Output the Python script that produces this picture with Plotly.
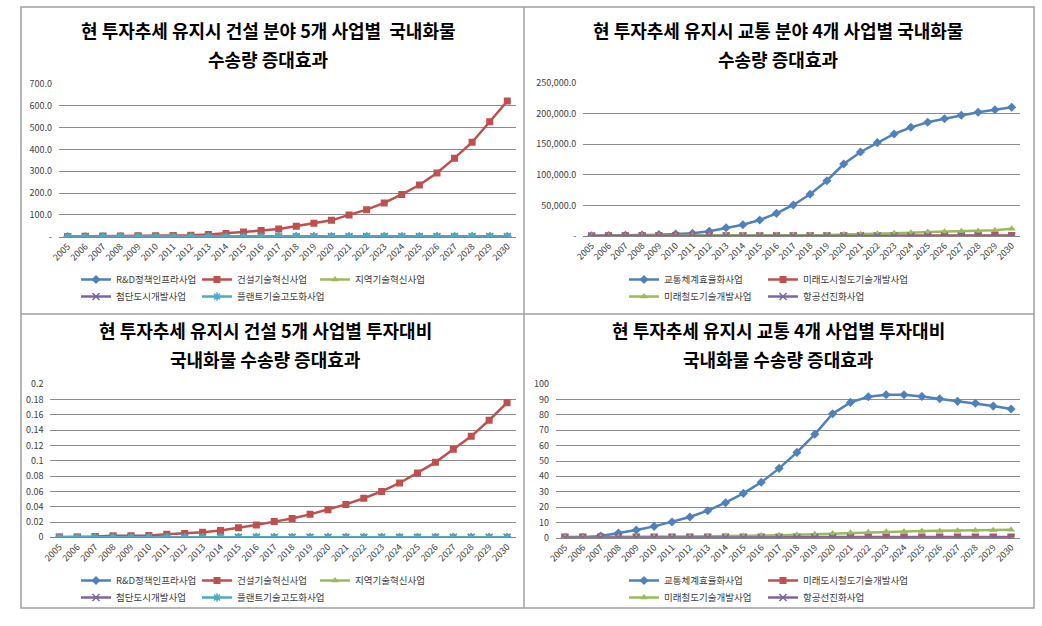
import plotly.graph_objects as go

W, H = 1042, 626

years = list(range(2005, 2031))
year_labels = [str(y) for y in years]

# ---- top-left: 건설 분야 5개 사업별 국내화물 수송량 증대효과 ----
tl_names = ["R&D정책인프라사업", "건설기술혁신사업", "지역기술혁신사업", "첨단도시개발사업", "플랜트기술고도화사업"]
tl_rnd = [0.1, 0.1, 0.1, 0.2, 0.2, 0.2, 0.2, 0.3, 0.3, 0.3, 0.4, 0.4, 0.4, 0.5, 0.5, 0.5, 0.6, 0.6, 0.6, 0.7, 0.7, 0.7, 0.8, 0.8, 0.9, 0.9]
tl_con = [1, 1.5, 3, 3.5, 4, 4.5, 5, 7, 10, 15, 21, 28, 35, 48, 62, 75, 100, 124, 155, 194, 237, 292, 360, 433, 527, 622]
tl_reg = [0.1, 0.1, 0.1, 0.1, 0.2, 0.2, 0.2, 0.2, 0.3, 0.3, 0.3, 0.3, 0.4, 0.4, 0.4, 0.5, 0.5, 0.5, 0.6, 0.6, 0.6, 0.7, 0.7, 0.7, 0.8, 0.8]
tl_city = [0.0, 0.0, 0.0, 0.0, 0.1, 0.1, 0.1, 0.1, 0.1, 0.1, 0.2, 0.2, 0.2, 0.2, 0.2, 0.3, 0.3, 0.3, 0.3, 0.3, 0.4, 0.4, 0.4, 0.4, 0.5, 0.5]
tl_plant = [0.1, 0.1, 0.1, 0.1, 0.1, 0.2, 0.2, 0.2, 0.2, 0.2, 0.3, 0.3, 0.3, 0.3, 0.4, 0.4, 0.4, 0.4, 0.5, 0.5, 0.5, 0.6, 0.6, 0.6, 0.7, 0.7]
tl_yticks = [0, 100, 200, 300, 400, 500, 600, 700]
tl_yticktext = ["-", "100.0", "200.0", "300.0", "400.0", "500.0", "600.0", "700.0"]

# ---- top-right: 교통 분야 4개 사업별 국내화물 수송량 증대효과 ----
tr_names = ["교통체계효율화사업", "미래도시철도기술개발사업", "미래철도기술개발사업", "항공선진화사업"]
tr_eff = [500, 800, 1000, 1500, 2200, 3300, 4400, 7700, 13600, 18500, 26100, 37000, 50700, 68100, 90300,
          117600, 137300, 152500, 166700, 177600, 185800, 191700, 197300, 202100, 206400, 210300]
tr_urban = [200, 220, 240, 260, 280, 300, 300, 320, 340, 360, 380, 400, 420, 440, 460, 480, 500, 520, 540, 560, 580, 600, 620, 640, 660, 680]
tr_rail = [100, 150, 200, 250, 300, 400, 500, 600, 700, 800, 900, 1000, 1200, 1400, 1600,
           2500, 3000, 3800, 4500, 5500, 6500, 7000, 7800, 8300, 9500, 12000]
tr_air = [20, 20, 30, 30, 30, 40, 40, 40, 50, 50, 50, 60, 60, 60, 70, 70, 70, 80, 80, 80, 90, 90, 90, 100, 100, 100]
tr_yticks = [0, 50000, 100000, 150000, 200000, 250000]
tr_yticktext = ["-", "50,000.0", "100,000.0", "150,000.0", "200,000.0", "250,000.0"]

# ---- bottom-left: 건설 5개 사업별 투자대비 ----
bl_rnd = [0.0001] * 26
bl_con = [0.0003, 0.0005, 0.001, 0.002, 0.002, 0.0025, 0.004, 0.005, 0.0065, 0.009, 0.0125, 0.016, 0.0205,
          0.0245, 0.03, 0.036, 0.043, 0.051, 0.06, 0.071, 0.084, 0.098, 0.115, 0.132, 0.153, 0.176]
bl_reg = [0.0001] * 26
bl_city = [0.0] * 26
bl_plant = [0.0001] * 26
bl_yticks = [0, 0.02, 0.04, 0.06, 0.08, 0.1, 0.12, 0.14, 0.16, 0.18, 0.2]
bl_yticktext = ["0", "0.02", "0.04", "0.06", "0.08", "0.1", "0.12", "0.14", "0.16", "0.18", "0.2"]

# ---- bottom-right: 교통 4개 사업별 투자대비 ----
br_eff = [0.1, 0.2, 1.1, 3, 5, 7.4, 10.2, 13.5, 17.6, 22.8, 28.9, 36.1, 45.2, 55.6, 67.4, 80.8,
          88.2, 91.9, 93.2, 93.2, 92.1, 90.6, 88.9, 87.6, 85.8, 83.9]
br_urban = [0.5] * 26
br_rail = [0.3, 0.3, 0.4, 0.5, 0.5, 0.6, 0.7, 0.8, 0.9, 1.0, 1.1, 1.4, 1.6, 1.9, 2.3, 2.8,
           3.2, 3.5, 3.8, 4.1, 4.3, 4.4, 4.6, 4.7, 4.8, 5.2]
br_air = [0.05] * 26
br_yticks = [0, 10, 20, 30, 40, 50, 60, 70, 80, 90, 100]
br_yticktext = [str(v) for v in br_yticks]

titles = [
    ("현 투자추세 유지시 건설 분야 5개 사업별  국내화물", "수송량 증대효과"),
    ("현 투자추세 유지시 교통 분야 4개 사업별 국내화물", "수송량 증대효과"),
    ("현 투자추세 유지시 건설 5개 사업별 투자대비", "국내화물 수송량 증대효과"),
    ("현 투자추세 유지시 교통 4개 사업별 투자대비", "국내화물 수송량 증대효과"),
]

BLUE, RED, GREEN, PURPLE, CYAN = "#4F81BD", "#C0504D", "#9BBB59", "#8064A2", "#4BACC6"
FONT = "Noto Sans CJK KR"

def px_x(p):
    return p / W

def px_y(p):
    return 1 - p / H

fig = go.Figure()

con_styles = [
    (BLUE, "diamond", 7),
    (RED, "square", 7),
    (GREEN, "triangle-up", 7),
    (PURPLE, "x-thin-open", 7),
    (CYAN, "asterisk-open", 7),
]
tr_styles = [
    (BLUE, "diamond", 7),
    (RED, "square", 7),
    (GREEN, "triangle-up", 7),
    (PURPLE, "x-thin-open", 7),
]

# legend slots (text start x, row centre y) in pixels
con_slots_top = [(117, 279), (238, 279), (356, 279), (117, 296), (238, 296)]
tr_slots_top = [(665, 279), (804, 279), (665, 296), (804, 296)]
con_slots_bot = [(117, 580), (238, 580), (356, 580), (117, 597), (238, 597)]
tr_slots_bot = [(665, 580), (804, 580), (665, 597), (804, 597)]

legfont = dict(family=FONT, size=9.5, color="#404040")
legend_layout = {}
leg_counter = [0]

def new_legend(tx, cy):
    leg_counter[0] += 1
    n = leg_counter[0]
    key = "legend" if n == 1 else "legend%d" % n
    legend_layout[key] = dict(
        orientation="h", font=legfont, bgcolor="rgba(0,0,0,0)",
        xanchor="left", yanchor="top", itemwidth=30,
        x=px_x(tx - 41), y=px_y(cy - 14),
    )
    return key

def add_series(names, series, styles, xa, ya, slots):
    for name, vals, (col, sym, sz), (tx, cy) in zip(names, series, styles, slots):
        open_sym = sym.endswith("open")
        leg = new_legend(tx, cy)
        fig.add_trace(go.Scatter(
            x=years, y=vals, name=name, mode="lines+markers",
            xaxis=xa, yaxis=ya, legend=leg,
            line=dict(color=col, width=2.5),
            marker=dict(symbol=sym, size=sz, color=col,
                        line=dict(color=col, width=1.5 if open_sym else 0)),
        ))

add_series(tl_names, [tl_rnd, tl_con, tl_reg, tl_city, tl_plant], con_styles, "x", "y", con_slots_top)
add_series(tr_names, [tr_eff, tr_urban, tr_rail, tr_air], tr_styles, "x2", "y2", tr_slots_top)
add_series(tl_names, [bl_rnd, bl_con, bl_reg, bl_city, bl_plant], con_styles, "x3", "y3", con_slots_bot)
add_series(tr_names, [br_eff, br_urban, br_rail, br_air], tr_styles, "x4", "y4", tr_slots_bot)

xcommon = dict(
    range=[2004.5, 2030.5], tickmode="array", tickvals=years, ticktext=year_labels,
    tickangle=-45, showgrid=False, showline=True, linecolor="#868686", linewidth=1,
    tickfont=dict(family=FONT, size=9, color="#404040"), zeroline=False, fixedrange=True,
    automargin=False,
)
ycommon = dict(
    showgrid=True, gridcolor="#8c8c8c", gridwidth=1, showline=False, zeroline=False,
    tickfont=dict(family=FONT, size=9, color="#404040"), ticklabelstandoff=6, fixedrange=True,
    automargin=False,
)

domains = {
    1: ([px_x(58.9), px_x(516.1)], [px_y(236.7), px_y(84)]),
    2: ([px_x(583.3), px_x(1020.1)], [px_y(236), px_y(83)]),
    3: ([px_x(50.4), px_x(516)], [px_y(537.3), px_y(384.3)]),
    4: ([px_x(556), px_x(1020)], [px_y(537.7), px_y(384.3)]),
}
yinfo = {
    1: ([0, 700], tl_yticks, tl_yticktext),
    2: ([0, 250000], tr_yticks, tr_yticktext),
    3: ([0, 0.2], bl_yticks, bl_yticktext),
    4: ([0, 100], br_yticks, br_yticktext),
}

layout = {}
for i in range(1, 5):
    sx = "" if i == 1 else str(i)
    xd, yd = domains[i]
    yr, tv, tt = yinfo[i]
    layout["xaxis" + sx] = dict(xcommon, domain=xd, anchor="y" + sx)
    layout["yaxis" + sx] = dict(ycommon, domain=yd, anchor="x" + sx, range=yr,
                                tickmode="array", tickvals=tv, ticktext=tt)
layout.update(legend_layout)

annotations = []
title_pos = [(268, 30, 59), (778, 30, 59), (265, 330, 359), (778, 330, 359)]
for (l1, l2), (cx, y1, y2) in zip(titles, title_pos):
    for txt, yy in ((l1, y1), (l2, y2)):
        annotations.append(dict(
            text="<b>" + txt + "</b>", x=px_x(cx), y=px_y(yy), xref="paper", yref="paper",
            xanchor="center", yanchor="middle", showarrow=False,
            font=dict(family=FONT, size=18, color="#000000"),
        ))

frame = "#a0a0a0"
shapes = [
    dict(type="rect", xref="paper", yref="paper", x0=px_x(21), x1=px_x(1034), y0=px_y(608), y1=px_y(7),
         line=dict(color=frame, width=1.5)),
    dict(type="line", xref="paper", yref="paper", x0=px_x(524), x1=px_x(524), y0=px_y(608), y1=px_y(7),
         line=dict(color=frame, width=1.5)),
    dict(type="line", xref="paper", yref="paper", x0=px_x(21), x1=px_x(1034), y0=px_y(314), y1=px_y(314),
         line=dict(color=frame, width=1.5)),
]

fig.update_layout(
    width=W, height=H, margin=dict(l=0, r=0, t=0, b=0, autoexpand=False),
    paper_bgcolor="white", plot_bgcolor="white",
    font=dict(family=FONT), annotations=annotations, shapes=shapes,
    showlegend=True, **layout,
)

fig.write_html("out.html", config={"displayModeBar": False},
               post_script="document.body.style.margin='0';document.body.style.overflow='hidden';")
